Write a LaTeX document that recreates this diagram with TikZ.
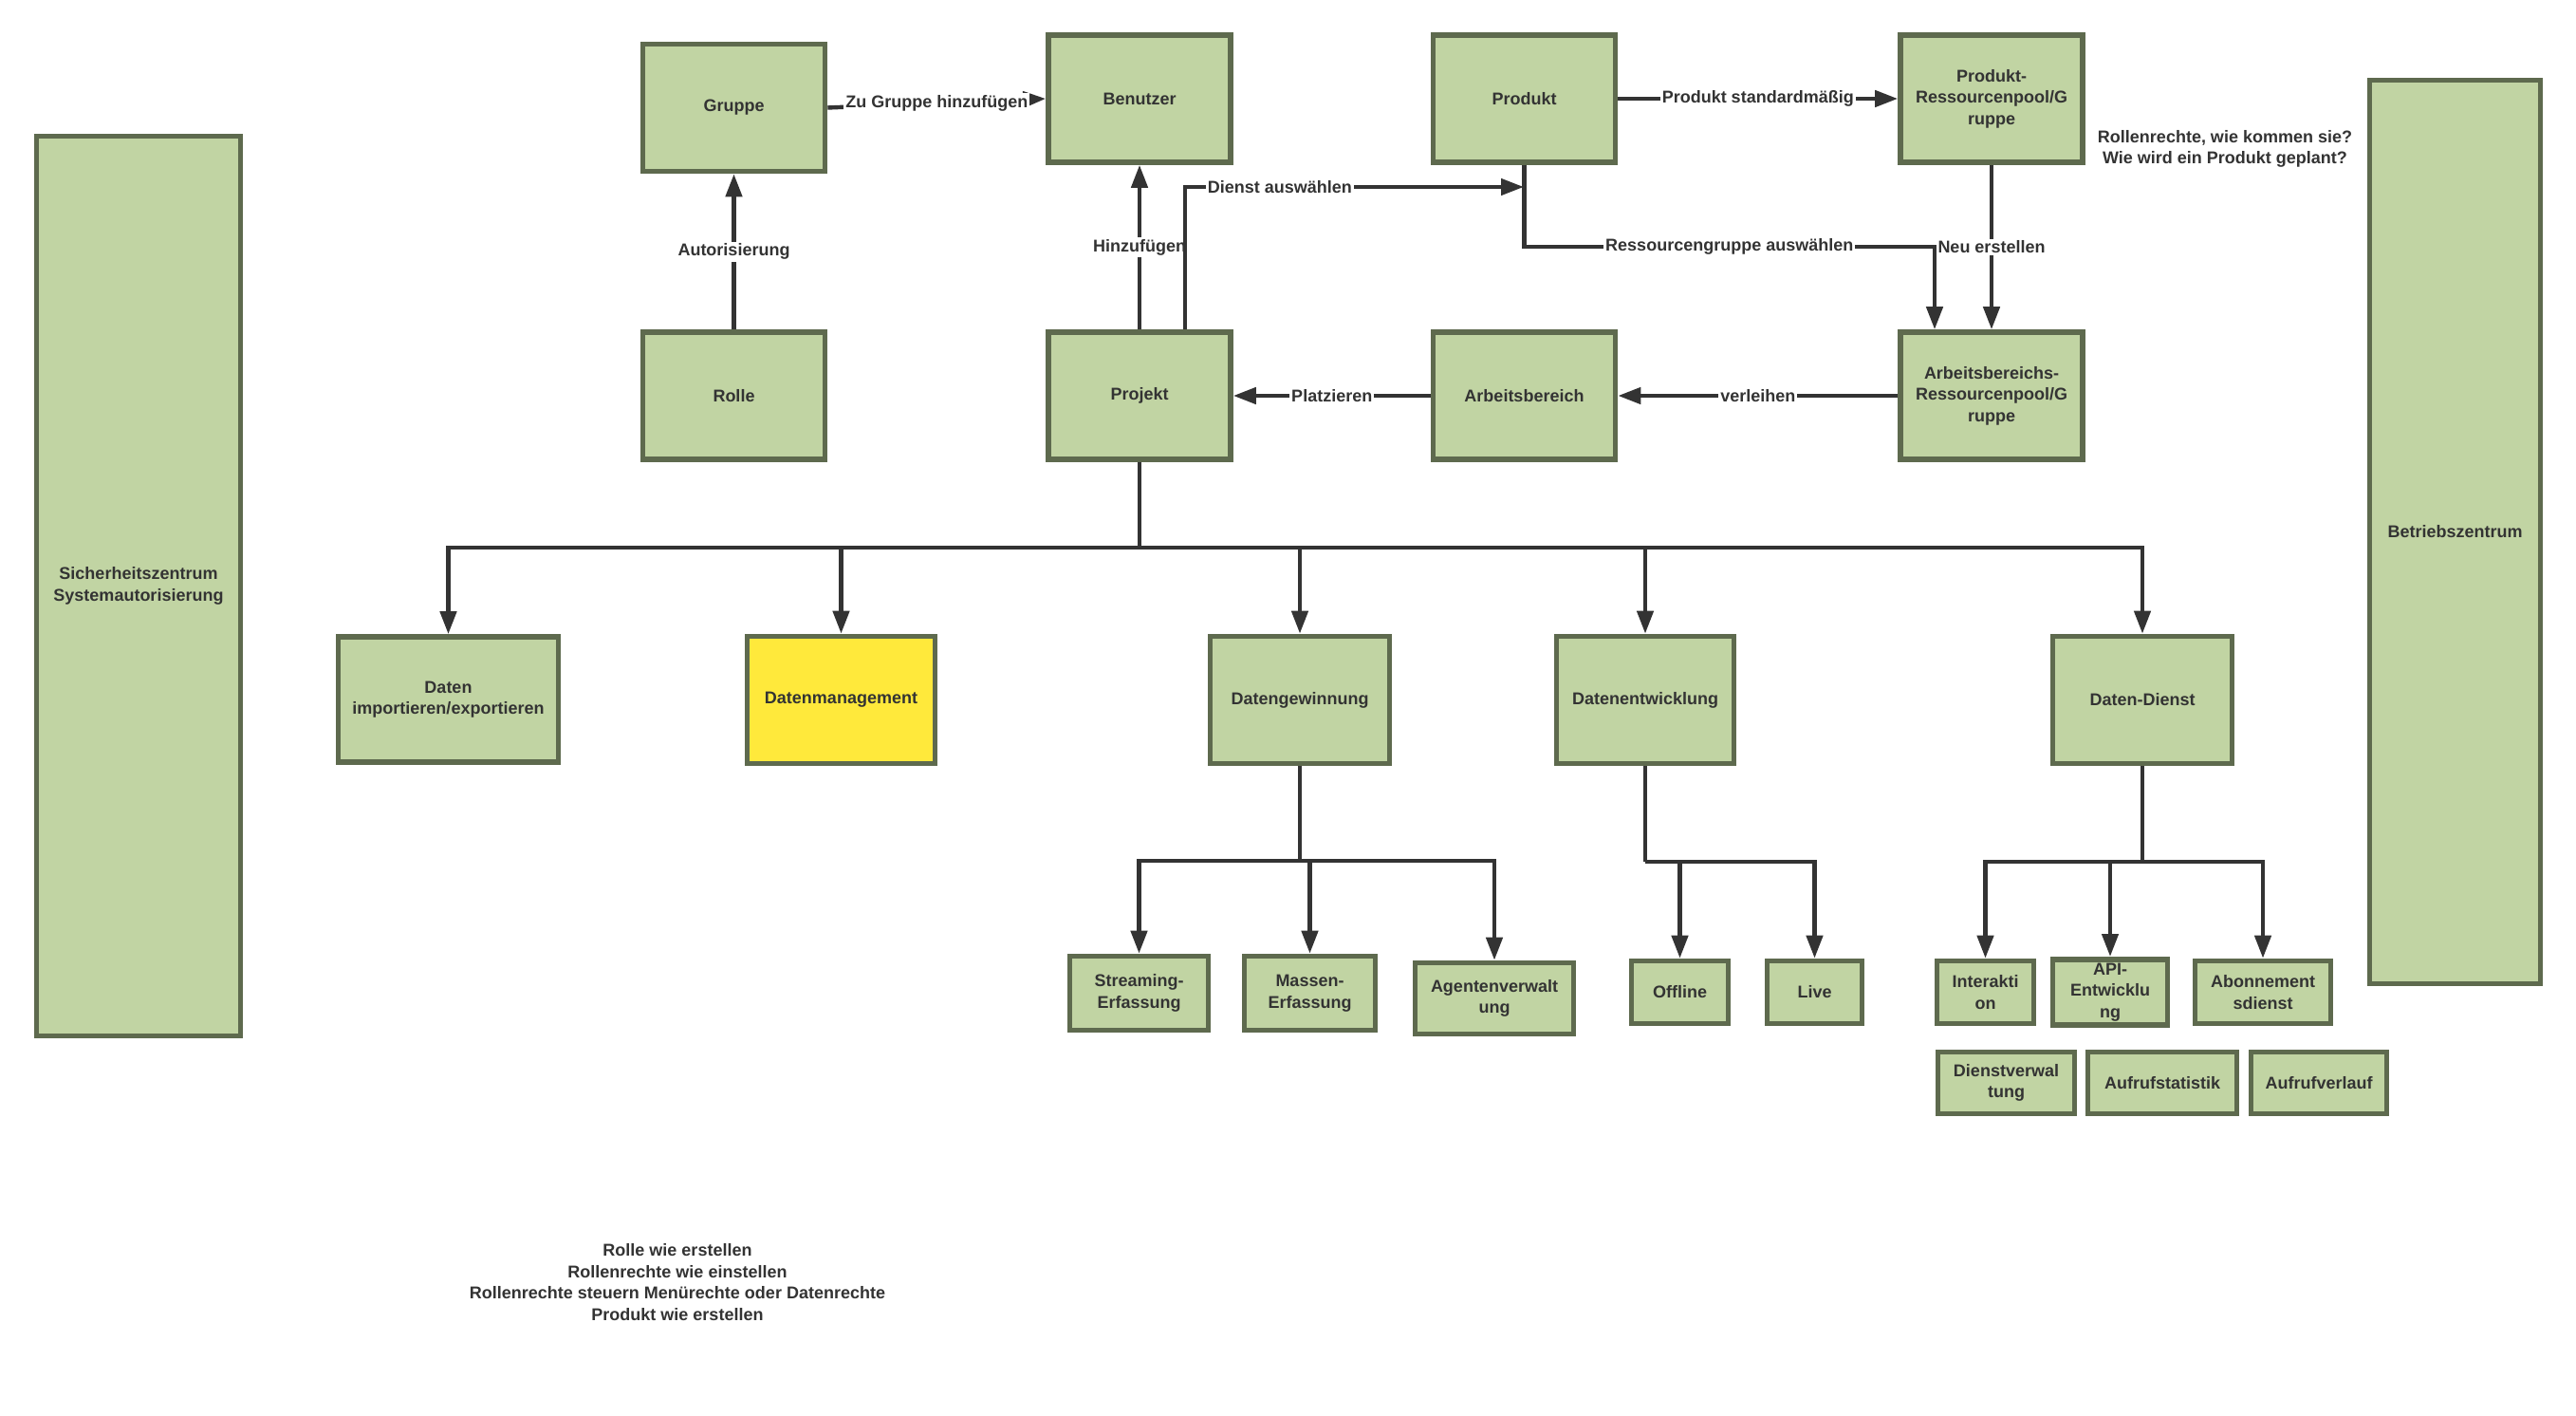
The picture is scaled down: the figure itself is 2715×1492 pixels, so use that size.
\documentclass[tikz,border=0pt]{standalone}
\usepackage{fontspec}
\setmainfont{Liberation Sans}
\usetikzlibrary{arrows.meta}
\definecolor{boxfill}{RGB}{193,212,163}
\definecolor{boxline}{RGB}{94,106,78}
\definecolor{hilite}{RGB}{255,233,59}
\definecolor{ink}{RGB}{51,51,51}
\tikzset{
  box/.style={draw=boxline, line width=2.8pt, fill=boxfill, inner sep=2pt, align=center,
    font=\bfseries\fontsize{9}{11.3}\selectfont, text=ink},
  bsize/.style 2 args={minimum width=#1pt, minimum height=#2pt},
  conn/.style={draw=ink, line width=2.2pt, -{Triangle[length=12pt,width=8.5pt]}},
  plain/.style={draw=ink, line width=2.2pt},
  lbl/.style={fill=white, inner sep=1pt, font=\bfseries\fontsize{9}{11}\selectfont, text=ink},
  note/.style={align=center, inner sep=0pt, font=\bfseries\fontsize{9}{11.2}\selectfont, text=ink},
}
\begin{document}
\begin{tikzpicture}[x=0.5pt, y=-0.5pt]
\useasboundingbox[fill=white] (0,0) rectangle (2715,1492);

% side columns
\node[box, bsize={107.5}{474}] (sich) at (146,617.5) {Sicherheitszentrum\\Systemautorisierung};
\node[box, bsize={90}{476}] (betr) at (2587.5,560.5) {Betriebszentrum};

% top rows
\node[box, bsize={96}{67}] (gruppe) at (773.5,113.5) {Gruppe};
\node[box, bsize={96}{67}] (benutzer) at (1201,104) {Benutzer};
\node[box, bsize={96}{67}] (produkt) at (1606.5,104) {Produkt};
\node[box, bsize={96}{67}] (prp) at (2099,104) {Produkt-\\Ressourcenpool/G\\ruppe};
\node[box, bsize={96}{67}] (rolle) at (773.5,417) {Rolle};
\node[box, bsize={96}{67}] (projekt) at (1201,417) {Projekt};
\node[box, bsize={96}{67}] (ab) at (1606.5,417) {Arbeitsbereich};
\node[box, bsize={96}{67}] (arp) at (2099,417) {Arbeitsbereichs-\\Ressourcenpool/G\\ruppe};

% middle row
\node[box, bsize={116}{66}] (die) at (472.5,737) {Daten\\importieren/exportieren};
\node[box, fill=hilite, bsize={99}{67}] (dm) at (886.5,737.5) {Datenmanagement};
\node[box, bsize={94.5}{67}] (dg) at (1370,737.5) {Datengewinnung};
\node[box, bsize={93.5}{67}] (de) at (1734,737.5) {Datenentwicklung};
\node[box, bsize={94.5}{67}] (dd) at (2258,737.5) {Daten-Dienst};

% bottom rows
\node[box, bsize={73}{39}] (stream) at (1200.5,1046.5) {Streaming-\\Erfassung};
\node[box, bsize={69}{39}] (massen) at (1380.5,1046.5) {Massen-\\Erfassung};
\node[box, bsize={83.5}{37.5}] (agent) at (1575,1052) {Agentenverwalt\\ung};
\node[box, bsize={51}{33}] (offline) at (1770.5,1045.5) {Offline};
\node[box, bsize={50}{33}] (live) at (1912.5,1045.5) {Live};
\node[box, bsize={51}{33}] (inter) at (2092.5,1045.5) {Interakti\\on};
\node[box, bsize={60.5}{33}] (api) at (2224,1045.5) {API-\\Entwicklu\\ng};
\node[box, bsize={71.5}{33}] (abo) at (2385,1045.5) {Abonnement\\sdienst};
\node[box, bsize={72}{32.5}] (dv) at (2114.5,1141) {Dienstverwal\\tung};
\node[box, bsize={78.5}{32.5}] (as) at (2279,1141) {Aufrufstatistik};
\node[box, bsize={71.5}{32.5}] (av) at (2444,1141) {Aufrufverlauf};

% notes
\node[note] (n1) at (2345,157) {Rollenrechte, wie kommen sie?\\Wie wird ein Produkt geplant?};
\node[note] (n2) at (714,1351) {Rolle wie erstellen\\Rollenrechte wie einstellen\\Rollenrechte steuern Menürechte oder Datenrechte\\Produkt wie erstellen};

% top connectors
\draw[conn] (rolle.north) -- node[lbl]{Autorisierung} (gruppe.south);
\draw[conn] (gruppe.east) -- node[lbl]{Zu Gruppe hinzufügen} (benutzer.west);
\draw[conn] (projekt.north) -- node[lbl]{Hinzufügen} (benutzer.south);
\coordinate (dsa) at (1249,197);
\coordinate (dsb) at (1606,197);
\draw[conn] (projekt.north -| dsa) -- (dsa) -- node[lbl,pos=0.28]{Dienst auswählen} (dsb);
\draw[conn] (produkt.east) -- node[lbl]{Produkt standardmäßig} (prp.west);
\coordinate (rg1) at (1606.5,260);
\coordinate (rg2) at (2039,260);
\draw[conn] (produkt.south) -- (rg1) -- node[lbl]{Ressourcengruppe auswählen} (rg2) -- (arp.north -| rg2);
\draw[conn] (prp.south) -- node[lbl]{Neu erstellen} (arp.north);
\draw[conn] (arp.west) -- node[lbl]{verleihen} (ab.east);
\draw[conn] (ab.west) -- node[lbl]{Platzieren} (projekt.east);

% bus from Projekt
\coordinate (pjj) at (1201,577);
\draw[plain] (projekt.south) -- (pjj);
\draw[conn] (pjj) -| (die.north);
\draw[conn] (pjj) -| (dm.north);
\draw[conn] (pjj) -| (dg.north);
\draw[conn] (pjj) -| (de.north);
\draw[conn] (pjj) -| (dd.north);

% Datengewinnung branches
\coordinate (dgj) at (1370,907);
\draw[plain] (dg.south) -- (dgj);
\draw[conn] (dgj) -| (stream.north);
\draw[conn] (dgj) -| (agent.north);
\draw[conn] (massen.north |- dgj) -- (massen.north);

% Datenentwicklung branches
\coordinate (dej) at (1734,908);
\draw[plain] (de.south) -- (dej);
\draw[conn] (dej) -| (offline.north);
\draw[conn] (dej) -| (live.north);

% Daten-Dienst branches
\coordinate (ddj) at (2258,908);
\draw[plain] (dd.south) -- (ddj);
\draw[conn] (ddj) -| (inter.north);
\draw[conn] (ddj) -| (abo.north);
\draw[conn] (api.north |- ddj) -- (api.north);
\end{tikzpicture}
\end{document}
